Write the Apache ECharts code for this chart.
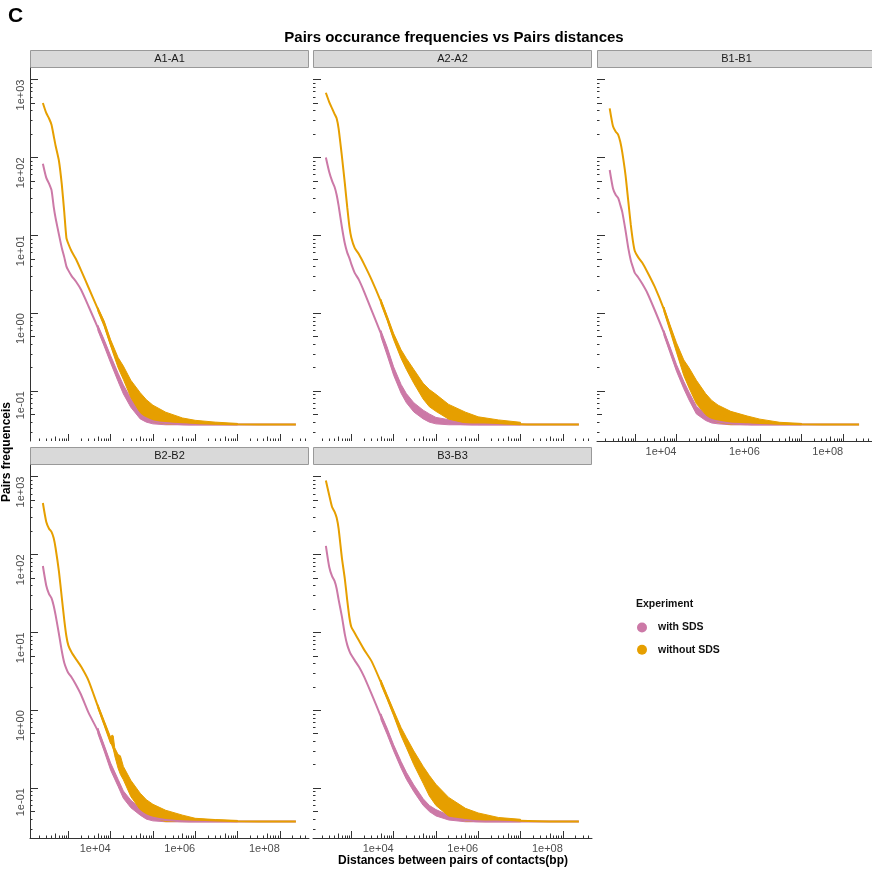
<!DOCTYPE html>
<html><head><meta charset="utf-8">
<script src="https://cdn.jsdelivr.net/npm/echarts@6.0.0/dist/echarts.min.js"></script>
<style>html,body{margin:0;padding:0;background:#fff}#chart{width:872px;height:872px}</style>
</head><body><div id="chart"></div>
<script>
// ---------------- data ----------------
const panelNames = ['A1-A1', 'A2-A2', 'B1-B1', 'B2-B2', 'B3-B3'];
const experiments = ['with SDS', 'without SDS'];

// distances (bp) at which the main curves were read
const distances = [250, 300, 350, 400, 450, 500, 600, 700, 800, 900, 1000, 1200, 1500, 2000, 3000, 5000, 7000, 10000, 15000, 20000, 30000, 50000, 70000, 100000, 200000, 500000, 1000000, 10000000, 100000000, 240000000];

const A1_with    = [83, 55, 46, 38, 23.4, 16.6, 10.2, 6.9, 5.25, 4.0, 3.55, 3.0, 2.57, 2.0, 1.23, 0.65, 0.42, 0.257, 0.151, 0.106, 0.071, 0.050, 0.0447, 0.0412, 0.039, 0.0376, 0.0372, 0.0372, 0.0372, 0.0372];
const A1_without = [500, 372, 316, 263, 190, 141, 90, 45, 20, 9.3, 7.8, 6.2, 5.0, 3.55, 2.14, 1.13, 0.74, 0.41, 0.235, 0.174, 0.11, 0.072, 0.06, 0.052, 0.045, 0.041, 0.039, 0.0376, 0.0372, 0.0372];
const A2_with    = [100, 65, 50, 42, 33, 24, 12.6, 7.9, 6.0, 5.1, 4.27, 3.3, 2.7, 1.9, 1.1, 0.55, 0.33, 0.182, 0.107, 0.081, 0.062, 0.050, 0.045, 0.0417, 0.039, 0.0376, 0.0372, 0.0372, 0.0372, 0.0372];
const A2_without = [676, 513, 427, 363, 316, 234, 102, 47, 23, 12.9, 9.3, 6.9, 5.75, 4.27, 2.7, 1.41, 0.87, 0.50, 0.30, 0.224, 0.155, 0.10, 0.083, 0.071, 0.0537, 0.0447, 0.0407, 0.0376, 0.0372, 0.0372];
const B1_with    = [69, 40, 33, 30, 24.5, 20, 11.5, 6.8, 4.8, 3.9, 3.3, 2.9, 2.4, 1.82, 1.1, 0.56, 0.34, 0.20, 0.12, 0.087, 0.0575, 0.0468, 0.0427, 0.0407, 0.0385, 0.0376, 0.0372, 0.0372, 0.0372, 0.0372];
const B1_without = [427, 251, 214, 195, 158, 117, 59, 27, 13.8, 8.5, 6.3, 5.25, 4.47, 3.39, 2.19, 1.12, 0.65, 0.363, 0.209, 0.148, 0.098, 0.066, 0.056, 0.050, 0.0447, 0.0407, 0.039, 0.0376, 0.0372, 0.0372];
const B2_with    = [71, 40, 31, 27.5, 22, 16.6, 9.5, 5.75, 4.07, 3.4, 3.0, 2.63, 2.14, 1.58, 0.93, 0.54, 0.33, 0.19, 0.117, 0.083, 0.063, 0.050, 0.0447, 0.0417, 0.039, 0.0376, 0.0372, 0.0372, 0.0372, 0.0372];
const B2_without = [457, 263, 214, 195, 162, 120, 60, 28, 14.5, 8.9, 6.8, 5.5, 4.57, 3.63, 2.4, 1.12, 0.69, 0.41, 0.225, 0.158, 0.10, 0.068, 0.058, 0.052, 0.045, 0.041, 0.0395, 0.0376, 0.0372, 0.0372];
const B3_with    = [129, 69, 52.5, 45.7, 36.3, 26.3, 15.8, 9.5, 6.9, 5.75, 5.1, 4.37, 3.63, 2.7, 1.62, 0.83, 0.54, 0.33, 0.20, 0.145, 0.10, 0.066, 0.055, 0.048, 0.0417, 0.039, 0.0376, 0.0372, 0.0372, 0.0372];
const B3_without = [890, 575, 407, 355, 295, 214, 89, 49, 25.7, 15.5, 11.7, 9.8, 7.9, 6.0, 4.27, 2.29, 1.48, 0.92, 0.53, 0.385, 0.245, 0.148, 0.108, 0.085, 0.060, 0.047, 0.0425, 0.038, 0.0372, 0.0372];

// noisy tail: upper / lower envelope of the jagged band
const bandDistances   = [5000, 7000, 10000, 15000, 20000, 30000, 50000, 70000, 100000, 200000, 500000, 1000000, 3000000, 10000000];
const bandDistancesB2 = [5000, 7000, 10000, 10800, 11500, 12500, 15000, 17000, 20000, 30000, 50000, 70000, 100000, 200000, 500000, 1000000, 3000000, 10000000];

const A1_with_hi    = [0.70, 0.46, 0.285, 0.17, 0.12, 0.081, 0.057, 0.050, 0.046, 0.043, 0.041, 0.040, 0.039, 0.038];
const A1_with_lo    = [0.60, 0.38, 0.23, 0.133, 0.092, 0.062, 0.044, 0.040, 0.038, 0.037, 0.037, 0.037, 0.037, 0.037];
const A1_without_hi = [1.18, 0.80, 0.457, 0.27, 0.21, 0.138, 0.0955, 0.0776, 0.066, 0.0537, 0.0452, 0.0422, 0.040, 0.0385];
const A1_without_lo = [1.06, 0.68, 0.38, 0.20, 0.141, 0.083, 0.0525, 0.0452, 0.0407, 0.038, 0.0372, 0.0372, 0.0372, 0.037];
const A2_with_hi    = [0.60, 0.37, 0.205, 0.122, 0.093, 0.071, 0.057, 0.051, 0.046, 0.043, 0.041, 0.040, 0.039, 0.038];
const A2_with_lo    = [0.50, 0.29, 0.16, 0.094, 0.071, 0.054, 0.044, 0.040, 0.038, 0.037, 0.037, 0.037, 0.037, 0.037];
const A2_without_hi = [1.51, 0.93, 0.55, 0.34, 0.263, 0.19, 0.126, 0.105, 0.091, 0.0676, 0.0537, 0.0468, 0.0427, 0.0398];
const A2_without_lo = [1.32, 0.81, 0.457, 0.263, 0.19, 0.126, 0.079, 0.063, 0.055, 0.0437, 0.039, 0.0372, 0.0372, 0.0372];
const B1_with_hi    = [0.60, 0.37, 0.22, 0.133, 0.097, 0.064, 0.051, 0.046, 0.044, 0.041, 0.040, 0.039, 0.038, 0.038];
const B1_with_lo    = [0.52, 0.31, 0.18, 0.107, 0.077, 0.051, 0.042, 0.039, 0.038, 0.037, 0.037, 0.037, 0.037, 0.037];
const B1_without_hi = [1.20, 0.71, 0.417, 0.251, 0.20, 0.138, 0.093, 0.076, 0.066, 0.055, 0.0479, 0.0437, 0.0398, 0.0385];
const B1_without_lo = [1.05, 0.59, 0.316, 0.158, 0.11, 0.069, 0.050, 0.0427, 0.0398, 0.0372, 0.0372, 0.0372, 0.0372, 0.0372];
const B2_with_hi    = [0.59, 0.36, 0.21, 0.13, 0.092, 0.070, 0.055, 0.049, 0.045, 0.042, 0.040, 0.039, 0.038, 0.038];
const B2_with_lo    = [0.50, 0.30, 0.17, 0.105, 0.074, 0.056, 0.045, 0.040, 0.038, 0.037, 0.037, 0.037, 0.037, 0.037];
const B2_without_hi = [1.18, 0.74, 0.45, 0.48, 0.47, 0.33, 0.27, 0.26, 0.19, 0.126, 0.086, 0.071, 0.062, 0.052, 0.045, 0.041, 0.0395, 0.0385];
const B2_without_lo = [1.06, 0.64, 0.37, 0.36, 0.33, 0.26, 0.18, 0.15, 0.128, 0.078, 0.0526, 0.046, 0.042, 0.0372, 0.0372, 0.0372, 0.0372, 0.0372];
const B3_with_hi    = [0.90, 0.59, 0.36, 0.22, 0.16, 0.11, 0.073, 0.060, 0.053, 0.045, 0.041, 0.039, 0.038, 0.038];
const B3_with_lo    = [0.76, 0.49, 0.30, 0.18, 0.13, 0.09, 0.060, 0.050, 0.044, 0.039, 0.037, 0.037, 0.037, 0.037];
const B3_without_hi = [2.45, 1.58, 1.0, 0.60, 0.447, 0.30, 0.19, 0.145, 0.112, 0.076, 0.055, 0.048, 0.042, 0.0398];
const B3_without_lo = [2.14, 1.38, 0.85, 0.47, 0.331, 0.20, 0.115, 0.079, 0.060, 0.0437, 0.038, 0.0372, 0.0372, 0.0372];

// axis ticks / labels
const xLabelTicks = [1e4, 1e6, 1e8];
const yLabelTicks = [0.1, 1, 10, 100, 1000];
const xMajorTicks = [1e3, 1e4, 1e5, 1e6, 1e7, 1e8];
const xMidTicks   = [500, 5e3, 5e4, 5e5, 5e6, 5e7];
const xMinorTicks = [200, 300, 400, 600, 700, 800, 900, 2e3, 3e3, 4e3, 6e3, 7e3, 8e3, 9e3, 2e4, 3e4, 4e4, 6e4, 7e4, 8e4, 9e4, 2e5, 3e5, 4e5, 6e5, 7e5, 8e5, 9e5, 2e6, 3e6, 4e6, 6e6, 7e6, 8e6, 9e6, 2e7, 3e7, 4e7, 6e7, 7e7, 8e7, 9e7, 2e8, 3e8, 4e8];
const yMajorTicks = [0.1, 1, 10, 100, 1000];
const yMidTicks   = [0.05, 0.5, 5, 50, 500];
const yMinorTicks = [0.03, 0.04, 0.06, 0.07, 0.08, 0.09, 0.2, 0.3, 0.4, 0.6, 0.7, 0.8, 0.9, 2, 3, 4, 6, 7, 8, 9, 20, 30, 40, 60, 70, 80, 90, 200, 300, 400, 600, 700, 800, 900];

// ---------------- layout / style ----------------
const FONT = '"Liberation Sans", Arial, Helvetica, sans-serif';
const COL_WITH = '#CC79A7', COL_WITHOUT = '#E69F00';
const X_MIN = 124, X_MAX = 4.9e8, Y_MIN = 0.0229, Y_MAX = 1406;
const PW = 279, PH = 373;
const AX = '#333333', TXT = '#4D4D4D';

const panels = [
  {name: panelNames[0], left: 30,  top: 68,  xLine: false, xLab: false, yLine: true,  yLab: true,
   w: A1_with, wo: A1_without, bw: bandDistances, whi: A1_with_hi, wlo: A1_with_lo, bwo: bandDistances, wohi: A1_without_hi, wolo: A1_without_lo},
  {name: panelNames[1], left: 313, top: 68,  xLine: false, xLab: false, yLine: false, yLab: false,
   w: A2_with, wo: A2_without, bw: bandDistances, whi: A2_with_hi, wlo: A2_with_lo, bwo: bandDistances, wohi: A2_without_hi, wolo: A2_without_lo},
  {name: panelNames[2], left: 597, top: 68,  xLine: true,  xLab: true,  yLine: false, yLab: false,
   w: B1_with, wo: B1_without, bw: bandDistances, whi: B1_with_hi, wlo: B1_with_lo, bwo: bandDistances, wohi: B1_without_hi, wolo: B1_without_lo},
  {name: panelNames[3], left: 30,  top: 465, xLine: true,  xLab: true,  yLine: true,  yLab: true,
   w: B2_with, wo: B2_without, bw: bandDistances, whi: B2_with_hi, wlo: B2_with_lo, bwo: bandDistancesB2, wohi: B2_without_hi, wolo: B2_without_lo},
  {name: panelNames[4], left: 313, top: 465, xLine: true,  xLab: true,  yLine: false, yLab: false,
   w: B3_with, wo: B3_without, bw: bandDistances, whi: B3_with_hi, wlo: B3_with_lo, bwo: bandDistances, wohi: B3_without_hi, wolo: B3_without_lo}
];

function sciLabel(v) {
  const e = Math.round(Math.log10(v));
  return '1e' + (e < 0 ? '-' : '+') + String(Math.abs(e)).padStart(2, '0');
}

const grids = [], xAxes = [], yAxes = [], series = [], graphics = [];

function tickAxis(dim, gi, ticks, len, withLine, withLabels) {
  const isX = dim === 'x';
  const ax = {
    gridIndex: gi, type: 'log', logBase: 10,
    min: isX ? X_MIN : Y_MIN, max: isX ? X_MAX : Y_MAX,
    position: isX ? 'bottom' : 'left',
    axisLine: {show: withLine, lineStyle: {color: AX, width: 1}},
    axisTick: {show: true, inside: true, length: len, customValues: ticks, lineStyle: {color: AX, width: 1}},
    splitLine: {show: false}, minorTick: {show: false},
    axisLabel: {show: false},
    silent: true
  };
  if (withLabels) {
    ax.axisLabel = isX ? {
      show: true, customValues: xLabelTicks, formatter: sciLabel,
      align: 'right', margin: 5, fontSize: 11, color: TXT, fontFamily: FONT
    } : {
      show: true, customValues: yLabelTicks, formatter: sciLabel, rotate: 90,
      align: 'right', verticalAlign: 'bottom', margin: 4, fontSize: 11, color: TXT, fontFamily: FONT
    };
  }
  return ax;
}

function bandRenderer(bx, lo, hi, color) {
  return function (params, api) {
    if (params.dataIndex !== 0) return null;
    const pts = [];
    for (let i = 0; i < bx.length; i++) pts.push(api.coord([bx[i], hi[i]]));
    for (let i = bx.length - 1; i >= 0; i--) pts.push(api.coord([bx[i], lo[i]]));
    return {type: 'polygon', shape: {points: pts}, style: {fill: color, stroke: color, lineWidth: 1}};
  };
}

panels.forEach((p, gi) => {
  grids.push({left: p.left, top: p.top, width: PW, height: PH, containLabel: false});
  const xi = xAxes.length, yi = yAxes.length;
  xAxes.push(tickAxis('x', gi, xMajorTicks, 7, p.xLine, p.xLab));
  xAxes.push(tickAxis('x', gi, xMidTicks, 4.5, false, false));
  xAxes.push(tickAxis('x', gi, xMinorTicks, 2.5, false, false));
  yAxes.push(tickAxis('y', gi, yMajorTicks, 8, p.yLine, p.yLab));
  yAxes.push(tickAxis('y', gi, yMidTicks, 5, false, false));
  yAxes.push(tickAxis('y', gi, yMinorTicks, 2.5, false, false));

  const sets = [
    {name: experiments[0], color: COL_WITH, vals: p.w, bx: p.bw, hi: p.whi, lo: p.wlo},
    {name: experiments[1], color: COL_WITHOUT, vals: p.wo, bx: p.bwo, hi: p.wohi, lo: p.wolo}
  ];
  sets.forEach(s => {
    series.push({
      type: 'custom', xAxisIndex: xi, yAxisIndex: yi, silent: true,
      data: s.bx.map((d, i) => [d, s.lo[i], s.hi[i]]),
      encode: {x: 0, y: [1, 2]},
      renderItem: bandRenderer(s.bx, s.lo, s.hi, s.color)
    });
    series.push({
      type: 'line', name: s.name, xAxisIndex: xi, yAxisIndex: yi,
      data: distances.map((d, i) => [d, s.vals[i]]),
      showSymbol: false, symbol: 'none', smooth: 0.2,
      lineStyle: {color: s.color, width: 2}, itemStyle: {color: s.color},
      emphasis: {disabled: true}
    });
  });

  // facet strip
  const stripTop = p.top - 18;
  graphics.push({type: 'rect', shape: {x: p.left + 0.5, y: stripTop + 0.5, width: PW - 1, height: 17},
    style: {fill: '#D9D9D9', stroke: '#999999', lineWidth: 1}, silent: true});
  graphics.push({type: 'text', x: p.left + PW / 2, y: stripTop + 9,
    style: {text: p.name, fill: '#1A1A1A', font: '11px ' + FONT, textAlign: 'center', textVerticalAlign: 'middle'}, silent: true});
});

// titles
graphics.push({type: 'text', x: 8, y: 16, style: {text: 'C', fill: '#000', font: 'bold 21px ' + FONT, textAlign: 'left', textVerticalAlign: 'middle'}});
graphics.push({type: 'text', x: 454, y: 38, style: {text: 'Pairs occurance frequencies vs Pairs distances', fill: '#000', font: 'bold 15px ' + FONT, textAlign: 'center', textVerticalAlign: 'middle'}});
graphics.push({type: 'text', x: 453, y: 861, style: {text: 'Distances between pairs of contacts(bp)', fill: '#000', font: 'bold 12px ' + FONT, textAlign: 'center', textVerticalAlign: 'middle'}});
graphics.push({type: 'text', x: 7, y: 452, rotation: Math.PI / 2, style: {text: 'Pairs frequenceis', fill: '#000', font: 'bold 12px ' + FONT, textAlign: 'center', textVerticalAlign: 'middle'}});
graphics.push({type: 'text', x: 636, y: 604, style: {text: 'Experiment', fill: '#111', font: 'bold 10.5px ' + FONT, textAlign: 'left', textVerticalAlign: 'middle'}});

const chart = echarts.init(document.getElementById('chart'), null, {renderer: 'canvas'});
chart.setOption({
  animation: false,
  backgroundColor: '#ffffff',
  grid: grids, xAxis: xAxes, yAxis: yAxes, series: series,
  legend: {
    data: [{name: experiments[0], icon: 'circle', itemStyle: {color: COL_WITH}},
           {name: experiments[1], icon: 'circle', itemStyle: {color: COL_WITHOUT}}],
    orient: 'vertical', left: 632, top: 617, itemWidth: 10, itemHeight: 10, itemGap: 11.3,
    selectedMode: false,
    textStyle: {fontSize: 10.5, fontWeight: 'bold', color: '#111', fontFamily: FONT, padding: [0, 0, 0, 6]}
  },
  graphic: graphics
});
</script></body></html>
